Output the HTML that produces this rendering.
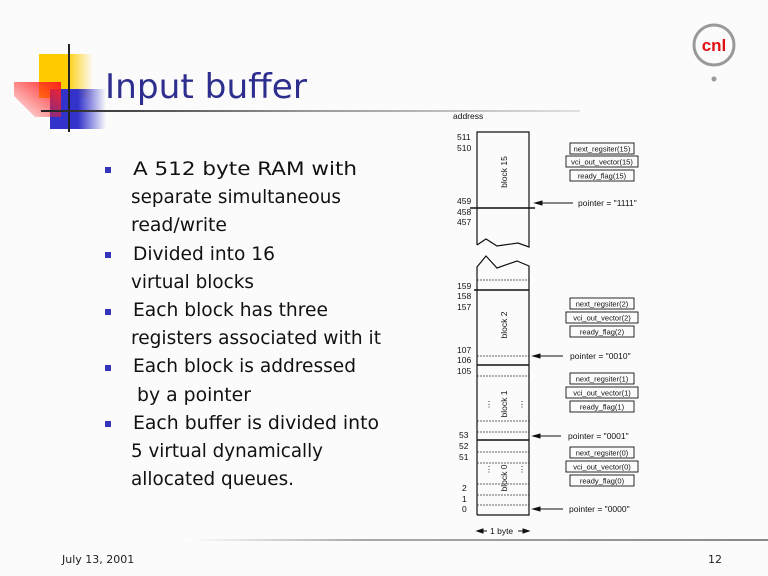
<!DOCTYPE html>
<html><head><meta charset="utf-8"><style>
html,body{margin:0;padding:0;background:#fbfbfb}
svg{display:block}
</style></head><body>
<svg width="768" height="576" viewBox="0 0 768 576" xmlns="http://www.w3.org/2000/svg" font-family="Liberation Sans, sans-serif">
<defs>
<linearGradient id="gy" x1="0" x2="1"><stop offset="0.5" stop-color="#ffcc00"/><stop offset="1" stop-color="#ffcc00" stop-opacity="0"/></linearGradient>
<linearGradient id="gb" x1="0" x2="1"><stop offset="0.5" stop-color="#3333cc"/><stop offset="1" stop-color="#3333cc" stop-opacity="0"/></linearGradient>
<linearGradient id="gr" x1="1" y1="0" x2="0" y2="1"><stop offset="0" stop-color="#ff2020"/><stop offset="1" stop-color="#ff2020" stop-opacity="0.05"/></linearGradient>
<linearGradient id="gl" x1="0" x2="1"><stop offset="0" stop-color="#222"/><stop offset="0.5" stop-color="#999"/><stop offset="1" stop-color="#e0e0e0"/></linearGradient>
<linearGradient id="gf" x1="0" x2="1"><stop offset="0" stop-color="#fff"/><stop offset="0.3" stop-color="#aaa"/><stop offset="1" stop-color="#888"/></linearGradient>
</defs>
<rect width="768" height="576" fill="#fbfbfb"/>
<rect x="39" y="54" width="54" height="44" fill="url(#gy)"/>
<rect x="50" y="89" width="56" height="40" fill="url(#gb)"/>
<polygon points="14,82 61,82 61,117 35,117 14,96" fill="url(#gr)"/>
<line x1="69" y1="44" x2="69" y2="132" stroke="#222" stroke-width="2"/>
<rect x="41" y="110" width="539" height="2" fill="url(#gl)"/>
<text x="105" y="98" font-family="DejaVu Sans, sans-serif" font-size="34" fill="#2e2e8f" textLength="202" lengthAdjust="spacingAndGlyphs">Input buffer</text>
<circle cx="714" cy="45" r="20" fill="none" stroke="#999" stroke-width="3"/>
<circle cx="714" cy="79" r="2.5" fill="#999"/>
<text x="714" y="51" text-anchor="middle" font-size="17" font-weight="bold" fill="#e01010">cnl</text>
<g font-family="DejaVu Sans, sans-serif" font-size="19" fill="#111" lengthAdjust="spacingAndGlyphs">
<rect x="105" y="167" width="6" height="6" fill="#3333bb"/>
<rect x="105" y="252" width="6" height="6" fill="#3333bb"/>
<rect x="105" y="309" width="6" height="6" fill="#3333bb"/>
<rect x="105" y="365" width="6" height="6" fill="#3333bb"/>
<rect x="105" y="421" width="6" height="6" fill="#3333bb"/>
<text x="133" y="175" textLength="224" lengthAdjust="spacingAndGlyphs">A 512 byte RAM with</text>
<text x="131" y="203" textLength="210" lengthAdjust="spacingAndGlyphs">separate simultaneous</text>
<text x="131" y="231" textLength="96" lengthAdjust="spacingAndGlyphs">read/write</text>
<text x="133" y="260" textLength="142" lengthAdjust="spacingAndGlyphs">Divided into 16</text>
<text x="131" y="288" textLength="123" lengthAdjust="spacingAndGlyphs">virtual blocks</text>
<text x="133" y="316" textLength="195" lengthAdjust="spacingAndGlyphs">Each block has three</text>
<text x="131" y="344" textLength="250" lengthAdjust="spacingAndGlyphs">registers associated with it</text>
<text x="133" y="372" textLength="223" lengthAdjust="spacingAndGlyphs">Each block is addressed</text>
<text x="137" y="401" textLength="114" lengthAdjust="spacingAndGlyphs">by a pointer</text>
<text x="133" y="429" textLength="246" lengthAdjust="spacingAndGlyphs">Each buffer is divided into</text>
<text x="131" y="457" textLength="192" lengthAdjust="spacingAndGlyphs">5 virtual dynamically</text>
<text x="131" y="485" textLength="163" lengthAdjust="spacingAndGlyphs">allocated queues.</text>
</g>
<g font-size="8.5" fill="#111">
<text x="453" y="119">address</text>
<text x="457" y="140">511</text><text x="457" y="151">510</text>
<text x="457" y="204">459</text><text x="457" y="215">458</text><text x="457" y="225">457</text>
<text x="457" y="289">159</text><text x="457" y="299">158</text><text x="457" y="310">157</text>
<text x="457" y="353">107</text><text x="457" y="363">106</text><text x="457" y="374">105</text>
<text x="459" y="438">53</text><text x="459" y="449">52</text><text x="459" y="460">51</text>
<text x="462" y="491">2</text><text x="462" y="502">1</text><text x="462" y="512">0</text>
</g>
<g fill="none" stroke="#111" stroke-width="1.2">
<polyline points="477,245 477,132 529,132 529,247 518,243 497,246 486,239 477,245"/>
<polyline points="477,515 477,267 486,256 497,268 517,261 529,266 529,515 477,515"/>
<line x1="470" y1="208" x2="535" y2="208" stroke-width="1.6"/>
<line x1="474" y1="290" x2="529" y2="290" stroke-width="1.6"/>
<line x1="477" y1="365" x2="529" y2="365" stroke-width="1.6"/>
<line x1="477" y1="440" x2="529" y2="440" stroke-width="1.6"/>
</g>
<g stroke="#333" stroke-width="0.8" stroke-dasharray="2,1">
<line x1="477" y1="280" x2="529" y2="280"/>
<line x1="477" y1="356" x2="529" y2="356"/>
<line x1="477" y1="376" x2="529" y2="376"/>
<line x1="477" y1="421" x2="529" y2="421"/>
<line x1="477" y1="432" x2="529" y2="432"/>
<line x1="477" y1="452" x2="529" y2="452"/>
<line x1="477" y1="463" x2="529" y2="463"/>
<line x1="477" y1="484" x2="529" y2="484"/>
<line x1="477" y1="495" x2="529" y2="495"/>
<line x1="477" y1="505" x2="529" y2="505"/>
</g>
<g font-size="8.5" fill="#111">
<text transform="translate(507,172) rotate(-90)" text-anchor="middle">block 15</text>
<text transform="translate(507,325) rotate(-90)" text-anchor="middle">block 2</text>
<text transform="translate(507,404) rotate(-90)" text-anchor="middle">block 1</text>
<text transform="translate(507,478) rotate(-90)" text-anchor="middle">block 0</text>
<text x="489" y="407" text-anchor="middle">⋮</text><text x="522" y="407" text-anchor="middle">⋮</text>
<text x="489" y="472" text-anchor="middle">⋮</text><text x="522" y="472" text-anchor="middle">⋮</text>
</g>
<g font-size="7.5" fill="#111" text-anchor="middle">
<g fill="none" stroke="#111" stroke-width="0.9">
<rect x="570" y="143" width="64" height="11"/><rect x="566" y="156" width="72" height="11"/><rect x="570" y="170" width="64" height="11"/>
<rect x="570" y="298" width="64" height="11"/><rect x="566" y="312" width="72" height="11"/><rect x="570" y="326" width="64" height="11"/>
<rect x="570" y="373" width="64" height="11"/><rect x="566" y="387" width="72" height="11"/><rect x="570" y="401" width="64" height="11"/>
<rect x="570" y="447" width="64" height="11"/><rect x="566" y="461" width="72" height="11"/><rect x="570" y="475" width="64" height="11"/>
</g>
<text x="602" y="151.5">next_regsiter(15)</text><text x="602" y="164.5">vci_out_vector(15)</text><text x="602" y="178.5">ready_flag(15)</text>
<text x="602" y="306.5">next_regsiter(2)</text><text x="602" y="320.5">vci_out_vector(2)</text><text x="602" y="334.5">ready_flag(2)</text>
<text x="602" y="381.5">next_regsiter(1)</text><text x="602" y="395.5">vci_out_vector(1)</text><text x="602" y="409.5">ready_flag(1)</text>
<text x="602" y="455.5">next_regsiter(0)</text><text x="602" y="469.5">vci_out_vector(0)</text><text x="602" y="483.5">ready_flag(0)</text>
</g>
<g stroke="#111" stroke-width="1" fill="#111">
<line x1="540" y1="203" x2="573" y2="203"/><polygon points="535,203 542,201 542,205"/>
<line x1="538" y1="356" x2="563" y2="356"/><polygon points="533,356 540,354 540,358"/>
<line x1="538" y1="436" x2="561" y2="436"/><polygon points="533,436 540,434 540,438"/>
<line x1="538" y1="509" x2="563" y2="509"/><polygon points="533,509 540,507 540,511"/>
<line x1="478" y1="531" x2="487" y2="531"/><polygon points="477,531 483,529 483,533"/>
<line x1="518" y1="531" x2="528" y2="531"/><polygon points="529,531 523,529 523,533"/>
</g>
<g font-size="8.5" fill="#111">
<text x="578" y="206">pointer = "1111"</text>
<text x="570" y="359">pointer = "0010"</text>
<text x="568" y="439">pointer = "0001"</text>
<text x="569" y="512">pointer = "0000"</text>
<text x="490" y="534">1 byte</text>
</g>
<rect x="185" y="539" width="583" height="2" fill="url(#gf)"/>
<text x="62" y="563" font-family="DejaVu Sans, sans-serif" font-size="11" fill="#222">July 13, 2001</text>
<text x="708" y="563" font-family="DejaVu Sans, sans-serif" font-size="11" fill="#222">12</text>
</svg>
</body></html>
